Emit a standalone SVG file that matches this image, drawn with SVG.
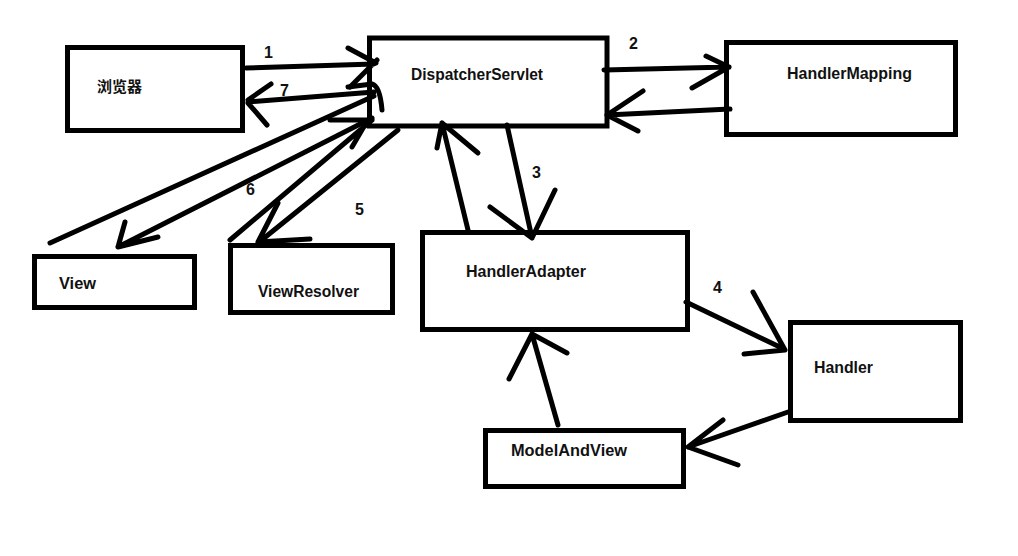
<svg xmlns="http://www.w3.org/2000/svg" width="1018" height="556" viewBox="0 0 1018 556">
<style>
.box{fill:#fff;stroke:#000;stroke-width:5}
.c{fill:none;stroke:#000;stroke-width:5;stroke-linecap:round;stroke-linejoin:round}
.t{font-family:"Liberation Sans","Noto Sans",Arial,sans-serif;font-weight:bold;font-size:16px;fill:#111}
.cjk{font-family:"Noto Sans CJK SC","Liberation Sans",sans-serif;font-weight:bold;font-size:15px;fill:#111}
</style>
<rect width="1018" height="556" fill="#fff"/>
<g id="browser">
  <rect class="box" x="67.5" y="47.5" width="175" height="83"/>
  <text class="cjk" x="97" y="92">浏览器</text>
</g>
<g id="dispatcherServlet">
  <rect class="box" x="369.5" y="38" width="237.5" height="88"/>
  <text class="t" x="411" y="80" textLength="132" lengthAdjust="spacingAndGlyphs">DispatcherServlet</text>
</g>
<g id="handlerMapping">
  <rect class="box" x="726.5" y="42.5" width="229" height="92"/>
  <text class="t" x="787" y="79" textLength="125" lengthAdjust="spacingAndGlyphs">HandlerMapping</text>
</g>
<g id="handlerAdapter">
  <rect class="box" x="422.5" y="232.5" width="265" height="97"/>
  <text class="t" x="466" y="277" textLength="120" lengthAdjust="spacingAndGlyphs">HandlerAdapter</text>
</g>
<g id="handler">
  <rect class="box" x="790.5" y="322.5" width="170" height="98"/>
  <text class="t" x="814" y="373" textLength="59" lengthAdjust="spacingAndGlyphs">Handler</text>
</g>
<g id="modelAndView">
  <rect class="box" x="485.5" y="430.5" width="198" height="56"/>
  <text class="t" x="511" y="456" textLength="116" lengthAdjust="spacingAndGlyphs">ModelAndView</text>
</g>
<g id="view">
  <rect class="box" x="34.5" y="256.5" width="160" height="51"/>
  <text class="t" x="59" y="289" textLength="37" lengthAdjust="spacingAndGlyphs">View</text>
</g>
<g id="viewResolver">
  <rect class="box" x="230.5" y="245.5" width="162" height="67"/>
  <text class="t" x="258" y="297" textLength="101" lengthAdjust="spacingAndGlyphs">ViewResolver</text>
</g>
<g id="connectors">
  <!-- 1: browser -> DispatcherServlet -->
  <path class="c" d="M246,68 L374,64 M348,48 L376,63 M350,87 L377,60"/>
  <!-- 7: DispatcherServlet -> browser -->
  <path class="c" d="M374,92 L248,102 M271,84 L248,100 M267,125 L248,103"/>
  <path class="c" d="M348,87 L372,84 Q380,86 382,110"/>
  <!-- View lines -->
  <path class="c" d="M50,243 L374,96"/>
  <path class="c" d="M372,118 L118,247 M125,222 L118,247 M158,237 L118,247"/>
  <!-- ViewResolver lines -->
  <path class="c" d="M230,240 L372,120 M330,120 L372,120 M352,147 L366,123"/>
  <path class="c" d="M398,130 L258,243 M310,239 L258,242 M278,203 L258,242"/>
  <!-- 2: DS -> HandlerMapping -->
  <path class="c" d="M604,70 L729,67 M706,56 L729,67 M692,88 L729,67"/>
  <!-- HandlerMapping -> DS -->
  <path class="c" d="M730,109 L607,115 M643,91 L607,115 M638,131 L607,115"/>
  <!-- HA -> DS -->
  <path class="c" d="M468,230 L442,123 M437,148 L442,123 M478,153 L442,123"/>
  <!-- 3: DS -> HA -->
  <path class="c" d="M507,125 L532,238 M490,207 L532,238 M555,190 L532,238"/>
  <!-- 4: HA -> Handler -->
  <path class="c" d="M686,302 L784,349 M753,292 L785,350 M744,354 L785,350"/>
  <!-- Handler -> ModelAndView -->
  <path class="c" d="M788,412 L688,447 M723,420 L688,447 M738,465 L688,447"/>
  <!-- ModelAndView -> HA -->
  <path class="c" d="M558,425 L532,334 M509,379 L532,334 M567,353 L532,334"/>
</g>
<g id="labels">
  <text class="t" x="264" y="58">1</text>
  <text class="t" x="629" y="49">2</text>
  <text class="t" x="532" y="178">3</text>
  <text class="t" x="713" y="293">4</text>
  <text class="t" x="355" y="215">5</text>
  <text class="t" x="246" y="195">6</text>
  <text class="t" x="280" y="96">7</text>
</g>
</svg>
